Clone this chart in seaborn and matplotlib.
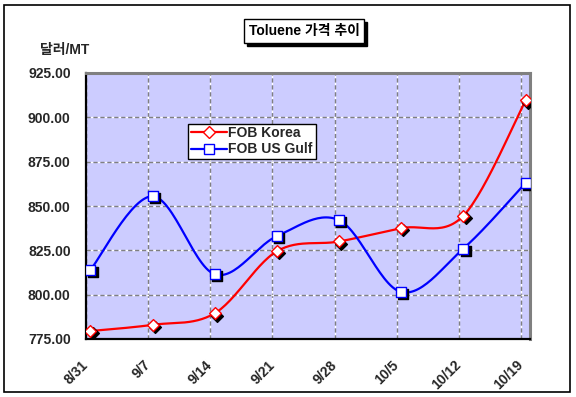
import numpy as np
import pandas as pd
import matplotlib
matplotlib.use("Agg")
import matplotlib.pyplot as plt
import matplotlib.transforms as mtransforms
from matplotlib.patches import Rectangle
from matplotlib.lines import Line2D
import seaborn as sns

# ---- data ----
dates = ["8/31", "9/7", "9/14", "9/21", "9/28", "10/5", "10/12", "10/19"]
day_index = [0, 7, 14, 21, 28, 35, 42, 49]
korea = [779.5, 783.0, 789.5, 824.5, 830.0, 837.5, 844.5, 909.5]
usgulf = [814.0, 855.5, 811.5, 833.0, 842.0, 801.5, 826.0, 863.0]
series_names = ["FOB Korea", "FOB US Gulf"]
yticks = [775, 800, 825, 850, 875, 900, 925]

sns.set_theme(style="white")
plt.rcParams["font.family"] = ["Liberation Sans", "Noto Sans CJK KR", "DejaVu Sans"]
plt.rcParams["font.weight"] = "bold"

fig = plt.figure(figsize=(5.76, 3.97), dpi=100)
fig.patch.set_facecolor("white")
fig.add_artist(Rectangle((4 / 576, 5 / 397), 566 / 576, 387 / 397, transform=fig.transFigure,
                         fill=False, edgecolor="black", linewidth=1.2))

ax = fig.add_axes([86 / 576, 1 - 339 / 397, 444 / 576, 266 / 397])
ax.set_facecolor("#CCCCFF")

X_SHIFT = 0.5  # points sit slightly right of the week gridlines


def excel_smooth(xs, ys, n=30):
    xs = np.asarray(xs, float)
    ys = np.asarray(ys, float)
    P = np.column_stack([xs, ys])
    out = []
    for i in range(len(P) - 1):
        p0 = P[i - 1] if i > 0 else P[i]
        p1 = P[i]
        p2 = P[i + 1]
        p3 = P[i + 2] if i + 2 < len(P) else P[i + 1]
        c1 = p1 + (p2 - p0) / 6.0
        c2 = p2 - (p3 - p1) / 6.0
        t = np.linspace(0, 1, n)[:, None]
        seg = ((1 - t) ** 3) * p1 + 3 * ((1 - t) ** 2) * t * c1 + 3 * (1 - t) * t ** 2 * c2 + t ** 3 * p2
        out.append(seg if i == 0 else seg[1:])
    seg = np.vstack(out)
    return seg[:, 0], seg[:, 1]


xpos = np.array(day_index, float) + X_SHIFT
colors = {"FOB Korea": "#FF0000", "FOB US Gulf": "#0000FF"}
markers = {"FOB Korea": "D", "FOB US Gulf": "s"}
msize = {"FOB Korea": 36, "FOB US Gulf": 46}

shadow = ax.transData + mtransforms.ScaledTranslation(1.6 / 72, -1.6 / 72, fig.dpi_scale_trans)

for name, vals in zip(series_names, [korea, usgulf]):
    sx, sy = excel_smooth(xpos, vals)
    sns.lineplot(x=sx, y=sy, ax=ax, sort=False, color=colors[name], linewidth=1.6,
                 estimator=None, zorder=3)
    df = pd.DataFrame({"x": xpos, "y": vals})
    sh = sns.scatterplot(data=df, x="x", y="y", ax=ax, marker=markers[name], s=msize[name],
                         color="black", edgecolor="black", linewidth=1.0, zorder=4)
    sh.collections[-1].set_offset_transform(shadow)
    sns.scatterplot(data=df, x="x", y="y", ax=ax, marker=markers[name], s=msize[name],
                    facecolor="white", edgecolor=colors[name], linewidth=1.0, zorder=5)

ax.set_xlim(0, 50)
ax.set_ylim(775, 925)
ax.set_xticks(day_index)
ax.set_xticklabels(dates, rotation=45, ha="right", va="center", rotation_mode="anchor",
                   fontsize=10, fontweight="bold")
ax.set_yticks(yticks)
ax.set_yticklabels([f"{v:.2f}" for v in yticks], fontsize=10, fontweight="bold")
ax.tick_params(axis="x", length=0, pad=17)
ax.tick_params(axis="y", length=0, pad=11)
ax.set_xlabel("")
ax.set_ylabel("")
ax.grid(True, color="#808080", linestyle=(0, (3, 2)), linewidth=1.0, gapcolor="white")
ax.set_axisbelow(True)
for s in ["top", "right"]:
    ax.spines[s].set_color("#808080")
    ax.spines[s].set_linewidth(2.2)
for s in ["left", "bottom"]:
    ax.spines[s].set_color("black")
    ax.spines[s].set_linewidth(1.6)

# legend
handles = [Line2D([], [], color=colors[n], linewidth=1.6, marker=markers[n],
                  markerfacecolor="white", markeredgecolor=colors[n], markersize=6.5)
           for n in series_names]
leg = ax.legend(handles, series_names, loc="upper left", bbox_to_anchor=(0.23, 0.81),
                borderaxespad=0, frameon=True, fancybox=False, framealpha=1,
                edgecolor="black", facecolor="white", fontsize=10, handlelength=2.6,
                handletextpad=0.1, labelspacing=0.15, borderpad=0.2)
leg.get_frame().set_linewidth(1.0)
for t in leg.get_texts():
    t.set_fontweight("bold")

# title box with shadow
title = "Toluene 가격 추이"
tx, ty = 304 / 576, 1 - 31 / 397
ttl = fig.text(tx, ty, title, ha="center", va="center", fontsize=10, fontweight="bold",
               color="black", zorder=5,
               bbox=dict(boxstyle="square,pad=0.35", facecolor="white", edgecolor="black",
                         linewidth=1.0))
fig.canvas.draw()
bb = ttl.get_bbox_patch().get_window_extent(fig.canvas.get_renderer())
bbf = bb.transformed(fig.transFigure.inverted())
fig.add_artist(Rectangle((bbf.x0 + 3 / 576, bbf.y0 - 3 / 397), bbf.width, bbf.height,
                         transform=fig.transFigure, facecolor="black", edgecolor="black",
                         zorder=4))

fig.text(65 / 576, 1 - 50 / 397, "달러/MT", ha="center", va="center", fontsize=10,
         fontweight="bold")

fig.savefig("out.png", dpi=100)
